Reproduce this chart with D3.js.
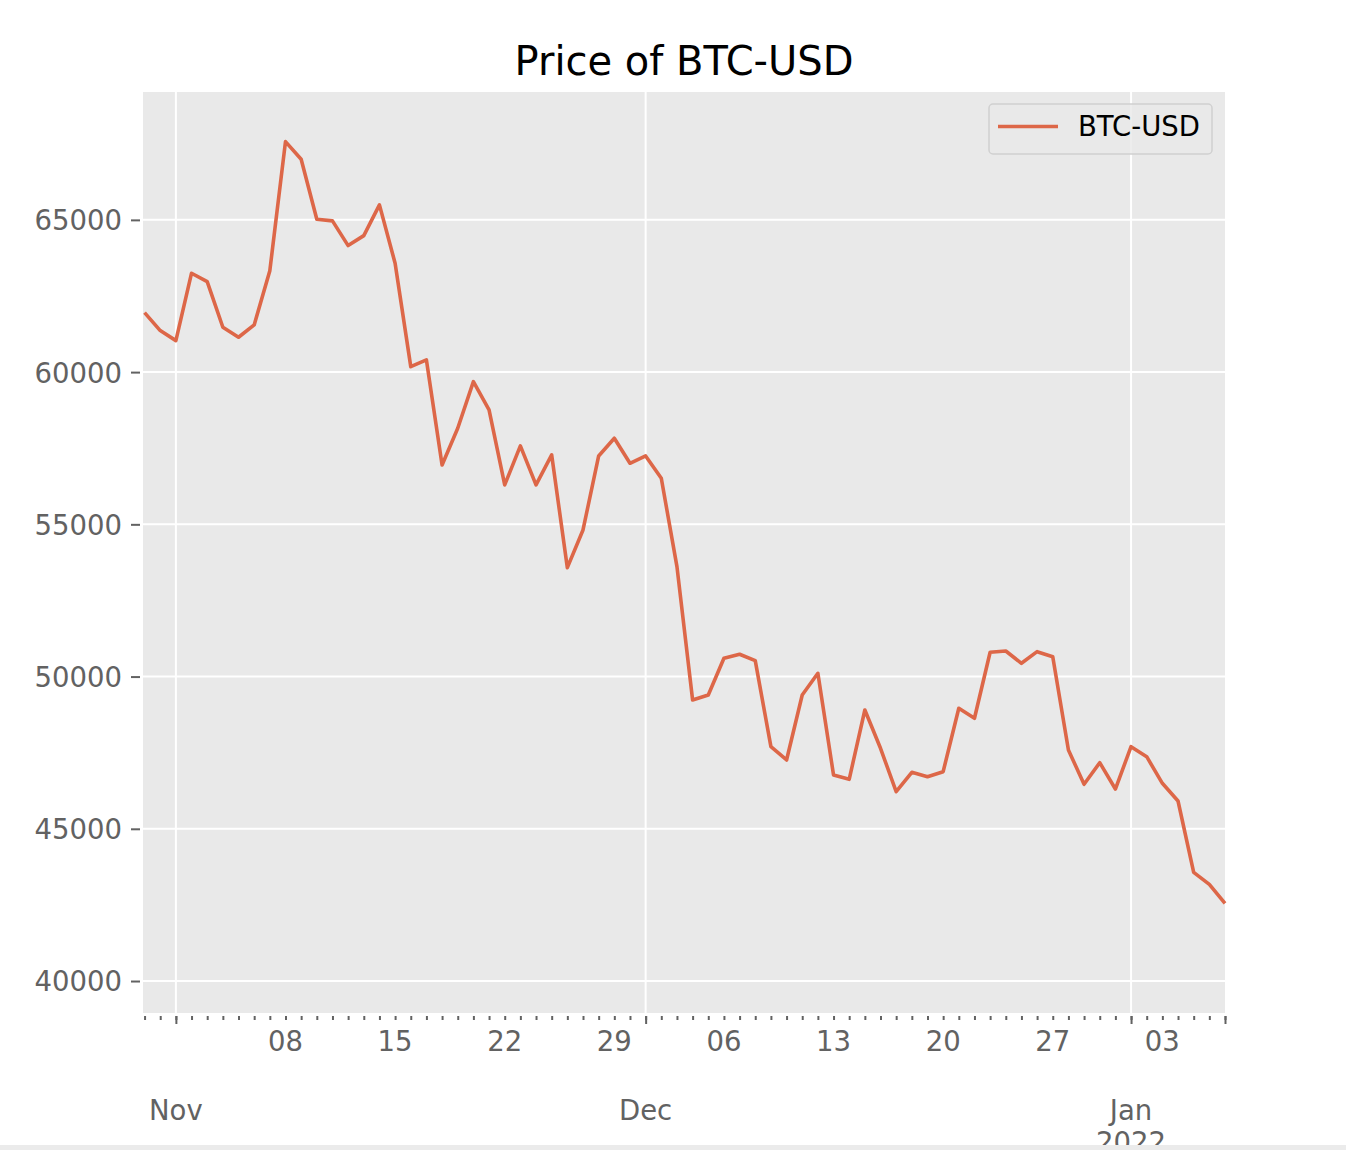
<!DOCTYPE html>
<html>
<head>
<meta charset="utf-8">
<script src="https://cdn.jsdelivr.net/npm/d3@7"></script>
<style>
  body { margin: 0; background: #ffffff; }
  text { font-family: "DejaVu Sans", sans-serif; }
</style>
</head>
<body>
<div class="chart"></div>
<script>
var svgWidth = 1346;
var svgHeight = 1150;

var margin = {
    top: 92,
    right: 121,
    bottom: 137,
    left: 143
};

var width = svgWidth - margin.left - margin.right;
var height = svgHeight - margin.top - margin.bottom;

// daily closing prices, Oct 30 2021 -> Jan 7 2022
var startDate = "2021-10-30";
var endDate = "2022-01-07";

var prices = [
    61954, 61363, 61034, 63248, 62972, 61474, 61146, 61550, 63333, 67571,
    66993, 65022, 64966, 64155, 64483, 65492, 63576, 60180, 60400, 56951,
    58156, 59687, 58757, 56294, 57575, 56294, 57279, 53577, 54815, 57246,
    57828, 57006, 57246, 56514, 53610, 49231, 49395, 50601, 50732, 50522,
    47697, 47260, 49395, 50108, 46767, 46626, 48902, 47644, 46218, 46856,
    46711, 46876, 48958, 48630, 50798, 50841, 50436, 50818, 50653, 47588,
    46462, 47171, 46307, 47697, 47368, 46494, 45913, 43571, 43177, 42552
];

var yTicks = [40000, 45000, 50000, 55000, 60000, 65000];

var weekDates = ["2021-11-08", "2021-11-15", "2021-11-22", "2021-11-29",
    "2021-12-06", "2021-12-13", "2021-12-20", "2021-12-27", "2022-01-03"];
var weekLabels = ["08", "15", "22", "29", "06", "13", "20", "27", "03"];

var monthDates = ["2021-11-01", "2021-12-01", "2022-01-01"];
var monthLabels = ["Nov", "Dec", "Jan\n2022"];

var parseDate = d3.timeParse("%Y-%m-%d");
var lineColor = "#dd6748";
var panelColor = "#e9e9e9";
var tickColor = "#626262";
var fontSize = 27.5;

var start = parseDate(startDate);
var days = d3.timeDay.range(start, d3.timeDay.offset(parseDate(endDate), 1));

var series = days.map(function(d, i) {
    return { date: d, price: prices[i] };
});

var svg = d3.select(".chart")
    .append("svg")
    .attr("width", svgWidth)
    .attr("height", svgHeight);

svg.append("text")
    .attr("x", 684)
    .attr("y", 75)
    .attr("text-anchor", "middle")
    .attr("font-size", 40)
    .attr("fill", "#000")
    .text("Price of BTC-USD");

var chartGroup = svg.append("g")
    .attr("transform", `translate(${margin.left}, ${margin.top})`);

var xScale = d3.scaleTime()
    .domain([new Date(start.getTime() - 0.1 * 864e5), parseDate(endDate)])
    .range([0, width]);

var yScale = d3.scaleLinear()
    .domain([38950, 69200])
    .range([height, 0]);

chartGroup.append("rect")
    .attr("width", width)
    .attr("height", height)
    .attr("fill", panelColor);

// grid
chartGroup.selectAll(".hgrid")
    .data(yTicks)
    .enter()
    .append("line")
    .attr("x1", 0)
    .attr("x2", width)
    .attr("y1", d => yScale(d))
    .attr("y2", d => yScale(d))
    .attr("stroke", "#fff")
    .attr("stroke-width", 2);

chartGroup.selectAll(".vgrid")
    .data(monthDates.map(parseDate))
    .enter()
    .append("line")
    .attr("x1", d => xScale(d))
    .attr("x2", d => xScale(d))
    .attr("y1", 0)
    .attr("y2", height)
    .attr("stroke", "#fff")
    .attr("stroke-width", 2);

// price line
var line = d3.line()
    .x(d => xScale(d.date))
    .y(d => yScale(d.price));

chartGroup.append("path")
    .datum(series)
    .attr("d", line)
    .attr("fill", "none")
    .attr("stroke", lineColor)
    .attr("stroke-width", 3.6)
    .attr("stroke-linejoin", "round");

// y axis
var leftAxis = d3.axisLeft(yScale)
    .tickValues(yTicks)
    .tickSize(9)
    .tickPadding(9)
    .tickFormat(d3.format("d"));

var yAxis = chartGroup.append("g")
    .attr("transform", "translate(-3, 0)")
    .call(leftAxis);

// x axis: minor (daily) ticks with weekly labels
var minorAxis = d3.axisBottom(xScale)
    .tickValues(days)
    .tickSize(4)
    .tickFormat("");

var xMinor = chartGroup.append("g")
    .attr("transform", `translate(0, ${height + 3})`)
    .call(minorAxis);

var majorTicks = monthDates.map(parseDate).concat([parseDate(endDate)]);
var majorAxis = d3.axisBottom(xScale)
    .tickValues(majorTicks)
    .tickSize(8)
    .tickFormat("");

var xMajor = chartGroup.append("g")
    .attr("transform", `translate(0, ${height + 3})`)
    .call(majorAxis);

[yAxis, xMinor, xMajor].forEach(function(g) {
    g.select(".domain").remove();
    g.selectAll(".tick line")
        .attr("stroke", tickColor)
        .attr("stroke-width", 2);
    g.selectAll("text")
        .attr("font-family", "DejaVu Sans")
        .attr("font-size", fontSize)
        .attr("fill", tickColor);
});

yAxis.selectAll("text").attr("dy", "0.36em");

chartGroup.selectAll(".weekLabel")
    .data(weekDates)
    .enter()
    .append("text")
    .attr("x", d => xScale(parseDate(d)))
    .attr("y", height + 38)
    .attr("text-anchor", "middle")
    .attr("font-size", fontSize)
    .attr("fill", tickColor)
    .text((d, i) => weekLabels[i]);

var monthText = chartGroup.selectAll(".monthLabel")
    .data(monthDates)
    .enter()
    .append("text")
    .attr("x", d => xScale(parseDate(d)))
    .attr("y", height + 107)
    .attr("text-anchor", "middle")
    .attr("font-size", fontSize)
    .attr("fill", tickColor);

monthText.each(function(d, i) {
    var parts = monthLabels[i].split("\n");
    var t = d3.select(this);
    parts.forEach(function(p, j) {
        t.append("tspan")
            .attr("x", xScale(parseDate(d)))
            .attr("dy", j === 0 ? 0 : 32)
            .text(p);
    });
});

// legend
var legend = chartGroup.append("g")
    .attr("transform", `translate(${989 - margin.left}, ${104 - margin.top})`);

legend.append("rect")
    .attr("width", 223)
    .attr("height", 50)
    .attr("rx", 4)
    .attr("fill", panelColor)
    .attr("fill-opacity", 0.8)
    .attr("stroke", "#d0d0d0")
    .attr("stroke-width", 1.5);

legend.append("line")
    .attr("x1", 9)
    .attr("x2", 69)
    .attr("y1", 22.5)
    .attr("y2", 22.5)
    .attr("stroke", lineColor)
    .attr("stroke-width", 3.6);

legend.append("text")
    .attr("x", 89)
    .attr("y", 32)
    .attr("font-size", fontSize)
    .attr("fill", "#000")
    .text("BTC-USD");

// page strip at the bottom edge
svg.append("rect")
    .attr("x", 0)
    .attr("y", 1145)
    .attr("width", svgWidth)
    .attr("height", 5)
    .attr("fill", "#ebebeb");
</script>
</body>
</html>
